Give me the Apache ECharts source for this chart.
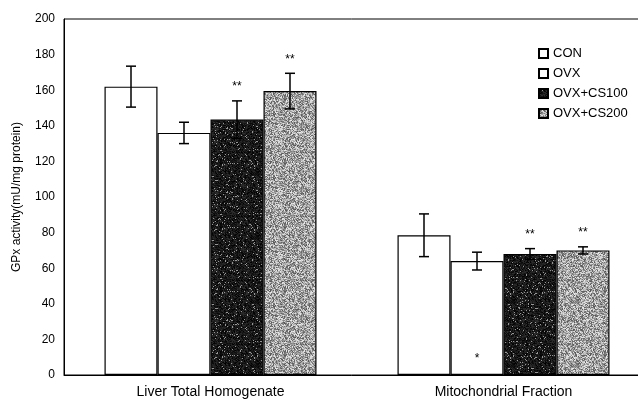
<!DOCTYPE html>
<html>
<head>
<meta charset="utf-8">
<script src="https://cdn.jsdelivr.net/npm/echarts@6/dist/echarts.min.js"></script>
<style>
  html, body { margin: 0; padding: 0; background: #fff; }
  #main { width: 638px; height: 403px; }
</style>
</head>
<body>
<div id="main"></div>
<script>
// 数据
const categories = ['Liver Total Homogenate', 'Mitochondrial Fraction'];
const groupNames = ['CON', 'OVX', 'OVX+CS100', 'OVX+CS200'];
const conValues = [162, 78.5];
const ovxValues = [136, 64];
const cs100Values = [143.5, 68];
const cs200Values = [159.5, 70];
const conErr = [11.5, 12];
const ovxErr = [6, 5];
const cs100Err = [10.5, 3];
const cs200Err = [10, 2];
// 显著性标记
const conSig = ['', ''];
const ovxSig = ['', '*'];
const cs100Sig = ['**', '**'];
const cs200Sig = ['**', '**'];
const yTicks = [0, 20, 40, 60, 80, 100, 120, 140, 160, 180, 200];

const values = [conValues, ovxValues, cs100Values, cs200Values];
const errors = [conErr, ovxErr, cs100Err, cs200Err];
const sigs = [conSig, ovxSig, cs100Sig, cs200Sig];

// 网点纹理（确定性的哈希抖动）
function makePattern(base, spread, lightRate) {
  const c = document.createElement('canvas');
  c.width = 64; c.height = 64;
  const ctx = c.getContext('2d');
  const img = ctx.createImageData(64, 64);
  for (let y = 0; y < 64; y++) {
    for (let x = 0; x < 64; x++) {
      let h = (x * 374761393 + y * 668265263) | 0;
      h = Math.imul(h ^ (h >>> 13), 1274126177);
      h = (h ^ (h >>> 16)) >>> 0;
      const r = (h % 1000) / 1000;
      let v = base + (r - 0.5) * spread;
      if (r > 1 - lightRate) v = 150;
      v = Math.max(0, Math.min(255, v));
      const i = (y * 64 + x) * 4;
      img.data[i] = img.data[i + 1] = img.data[i + 2] = v;
      img.data[i + 3] = 255;
    }
  }
  ctx.putImageData(img, 0, 0);
  return c;
}
const darkPat = makePattern(25, 50, 0.06);
const greyPat = makePattern(160, 150, 0);

const fills = [
  '#ffffff',
  '#ffffff',
  { image: darkPat, repeat: 'repeat' },
  { image: greyPat, repeat: 'repeat' }
];

const chart = echarts.init(document.getElementById('main'));
const font = 'Liberation Sans, Arial, sans-serif';

const barWidth = 53;
const barSeries = groupNames.map((name, i) => ({
  name: name,
  type: 'bar',
  data: values[i],
  barWidth: barWidth,
  barGap: 0,
  itemStyle: { color: fills[i], borderColor: '#000', borderWidth: 1.2 },
  z: 2
}));

// 误差线 + 星号
const errSeries = groupNames.map((name, i) => ({
  type: 'custom',
  name: name + '-err',
  data: values[i].map((v, k) => [k, v, errors[i][k]]),
  z: 5,
  renderItem: function (params, api) {
    const k = api.value(0);
    const v = api.value(1);
    const e = api.value(2);
    const s = sigs[i][k];
    const off = (i - 1.5) * barWidth;
    const top = api.coord([k, v + e]);
    const bot = api.coord([k, v - e]);
    const x = top[0] + off;
    const cap = 5;
    const style = { stroke: '#000', lineWidth: 1.5 };
    const children = [
      { type: 'line', shape: { x1: x, y1: top[1], x2: x, y2: bot[1] }, style: style },
      { type: 'line', shape: { x1: x - cap, y1: top[1], x2: x + cap, y2: top[1] }, style: style },
      { type: 'line', shape: { x1: x - cap, y1: bot[1], x2: x + cap, y2: bot[1] }, style: style }
    ];
    if (s === '**') {
      children.push({ type: 'text', style: { text: s, x: x, y: top[1] - 14, align: 'center', verticalAlign: 'middle', font: '12px ' + font, fill: '#000' } });
    } else if (s === '*') {
      const base = api.coord([k, 0]);
      children.push({ type: 'text', style: { text: s, x: x, y: base[1] - 16, align: 'center', verticalAlign: 'middle', font: '12px ' + font, fill: '#000' } });
    }
    return { type: 'group', children: children };
  }
}));

chart.setOption({
  animation: false,
  backgroundColor: '#fff',
  textStyle: { fontFamily: font },
  grid: {
    left: 64, top: 19, width: 586, bottom: 28,
    outerBoundsMode: 'none',
    show: true, borderColor: '#000', borderWidth: 1
  },
  legend: {
    data: groupNames,
    orient: 'vertical',
    left: 533, top: 42,
    itemWidth: 9, itemHeight: 9,
    itemGap: 7,
    icon: 'rect',
    textStyle: { fontSize: 13, color: '#000' }
  },
  xAxis: {
    type: 'category',
    data: categories,
    axisLine: { lineStyle: { color: '#000', width: 1 } },
    axisTick: { show: false },
    axisLabel: { color: '#000', fontSize: 14, margin: 10 }
  },
  yAxis: {
    type: 'value',
    min: yTicks[0],
    max: yTicks[yTicks.length - 1],
    interval: 20,
    name: 'GPx activity(mU/mg protein)',
    nameLocation: 'middle',
    nameGap: 41,
    nameTextStyle: { fontSize: 12, color: '#000' },
    axisLine: { show: true, lineStyle: { color: '#000', width: 1 } },
    axisTick: { show: false },
    splitLine: { show: false },
    axisLabel: { color: '#000', fontSize: 12, margin: 9 }
  },
  series: barSeries.concat(errSeries)
});
</script>
</body>
</html>
